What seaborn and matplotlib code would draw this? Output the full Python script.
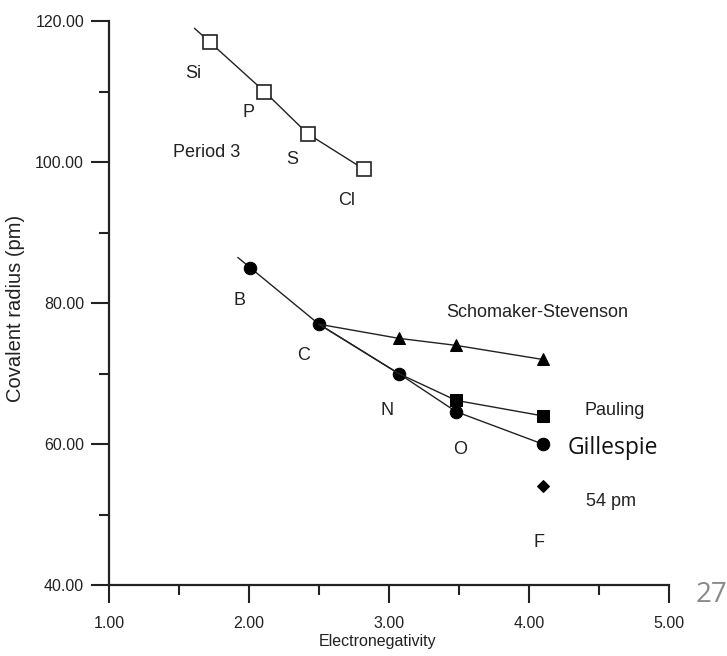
import numpy as np
import matplotlib.pyplot as plt
import seaborn as sns
from matplotlib.ticker import MultipleLocator, FormatStrFormatter

# period 3 (open squares)
p3_labels = ['Si', 'P', 'S', 'Cl']
p3_en = [1.72, 2.11, 2.42, 2.82]
p3_r = [117, 110, 104, 99]

# period 2, Gillespie radii (filled circles)
p2_labels = ['B', 'C', 'N', 'O', 'F']
p2_en = [2.01, 2.50, 3.07, 3.48, 4.10]
gillespie_r = [85, 77, 70, 64.6, 60]

# Pauling radii for C..F (N shared with Gillespie curve)
pauling_en = [2.50, 3.07, 3.48, 4.10]
pauling_r = [77, 70, 66.2, 64]

# Schomaker-Stevenson radii for C..F
ss_en = [2.50, 3.07, 3.48, 4.10]
ss_r = [77, 75, 74, 72]

# single 54 pm point for F
f54_en = [4.10]
f54_r = [54]


def lead_in(x, y, dx=0.1):
    # short extension of the line before the first point, along the first segment
    slope = (y[1] - y[0]) / (x[1] - x[0])
    return [x[0] - dx] + list(x), [y[0] - slope * dx] + list(y)


sns.set_style('ticks')
plt.rcParams['font.family'] = ['Liberation Sans', 'DejaVu Sans']

fig = plt.figure(figsize=(7.27, 6.56), dpi=100)
ax = fig.add_axes([0.150, 0.108, 0.770, 0.860])

line_kw = dict(color='#222222', linewidth=1.0, sort=False, estimator=None, ax=ax, legend=False)

x3, y3 = lead_in(p3_en, p3_r, 0.11)
sns.lineplot(x=x3, y=y3, **line_kw)
sns.lineplot(x=p3_en, y=p3_r, marker='s', markersize=10, markerfacecolor='white',
             markeredgecolor='#222222', markeredgewidth=1.2, linestyle='none', **line_kw)

x2, y2 = lead_in(p2_en, gillespie_r, 0.09)
sns.lineplot(x=x2, y=y2, **line_kw)
sns.lineplot(x=p2_en, y=gillespie_r, marker='o', markersize=9, markerfacecolor='black',
             markeredgecolor='black', linestyle='none', **line_kw)

sns.lineplot(x=pauling_en, y=pauling_r, **line_kw)
sns.lineplot(x=pauling_en[2:], y=pauling_r[2:], marker='s', markersize=9,
             markerfacecolor='black', markeredgecolor='black', linestyle='none', **line_kw)

sns.lineplot(x=ss_en, y=ss_r, **line_kw)
sns.lineplot(x=ss_en[1:], y=ss_r[1:], marker='^', markersize=8,
             markerfacecolor='black', markeredgecolor='black', linestyle='none', **line_kw)

sns.lineplot(x=f54_en, y=f54_r, marker='D', markersize=6, markerfacecolor='black',
             markeredgecolor='black', linestyle='none', **line_kw)

# element labels
lab_kw = dict(fontsize=13, color='#222222', ha='center', va='center')
p3_pos = [(1.60, 112.6), (2.00, 107.0), (2.31, 100.4), (2.70, 94.5)]
for lab, (x, y) in zip(p3_labels, p3_pos):
    ax.text(x, y, lab, **lab_kw)
p2_pos = [(1.93, 80.3), (2.39, 72.6), (2.99, 64.8), (3.51, 59.3), (4.07, 46.1)]
for lab, (x, y) in zip(p2_labels, p2_pos):
    ax.text(x, y, lab, **lab_kw)

ax.text(1.70, 101.3, 'Period 3', **lab_kw)
ax.text(4.06, 78.6, 'Schomaker-Stevenson', **lab_kw)
ax.text(4.61, 64.7, 'Pauling', **lab_kw)
ax.text(4.60, 59.5, 'Gillespie', fontsize=16.5, color='#111111', ha='center', va='center',
        family=['Open Sans', 'DejaVu Sans'])
ax.text(4.59, 51.9, '54 pm', **lab_kw)

ax.set_xlim(1, 5)
ax.set_ylim(40, 120)
ax.xaxis.set_major_locator(MultipleLocator(1))
ax.xaxis.set_minor_locator(MultipleLocator(0.5))
ax.yaxis.set_major_locator(MultipleLocator(20))
ax.yaxis.set_minor_locator(MultipleLocator(10))
ax.xaxis.set_major_formatter(FormatStrFormatter('%.2f'))
ax.yaxis.set_major_formatter(FormatStrFormatter('%.2f'))
ax.tick_params(which='major', length=13, width=1.5, labelsize=11.5, colors='#222222')
ax.tick_params(which='minor', length=7, width=1.5, colors='#222222')
ax.tick_params(axis='x', which='major', pad=9)
ax.tick_params(axis='y', which='major', pad=5)
sns.despine(ax=ax)
for side in ['left', 'bottom']:
    ax.spines[side].set_linewidth(1.6)
    ax.spines[side].set_color('#222222')

ax.set_xlabel('Electronegativity', fontsize=11.5, color='#222222')
ax.set_ylabel('Covalent radius (pm)', fontsize=14.5, color='#222222')
ax.xaxis.set_label_coords(0.48, -0.087)
ax.yaxis.set_label_coords(-0.151, 0.49)

# slide page number
fig.text(0.979, 0.093, '27', fontsize=20, color='#8a8a8a', ha='center', va='center',
         family=['Open Sans', 'DejaVu Sans'])

fig.savefig('out.png', dpi=100)
